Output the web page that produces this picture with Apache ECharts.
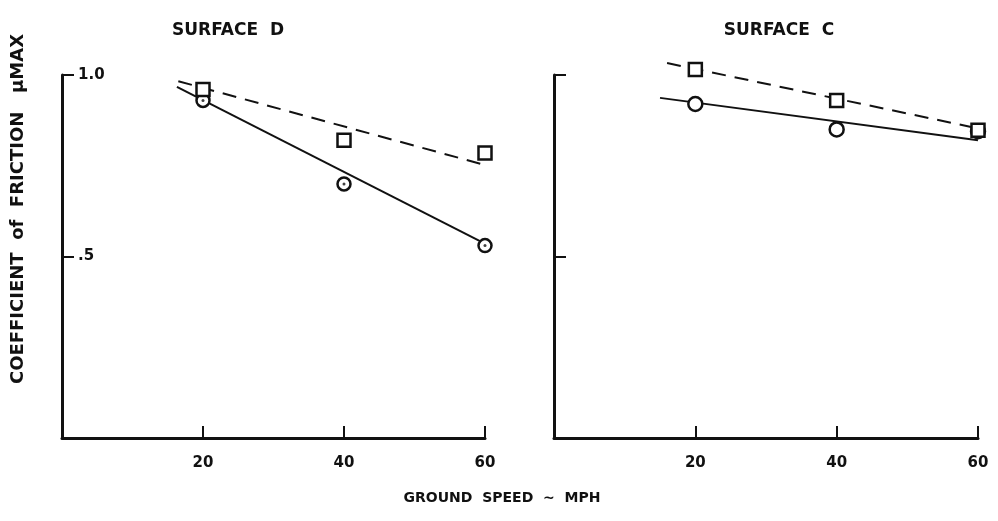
<!DOCTYPE html>
<html>
<head>
<meta charset="utf-8">
<script src="https://cdn.jsdelivr.net/npm/echarts@6/dist/echarts.min.js"></script>
<style>
  html, body { margin: 0; padding: 0; background: #fff; }
  #main { width: 998px; height: 521px; }
</style>
</head>
<body>
<div id="main"></div>
<script>
var chartDom = document.getElementById('main');
var myChart = echarts.init(chartDom);

// ground speed (mph) of the test points
var speed = [20, 40, 60];
// surface D
var dCircle = [0.93, 0.70, 0.53];
var dSquare = [0.96, 0.82, 0.785];
// surface C
var cCircle = [0.92, 0.85, 0.845];
var cSquare = [1.015, 0.93, 0.848];

// faired lines, end points [speed, mu]
var dSolid = [[16.3, 0.967], [59.5, 0.54]];
var dDash = [[16.5, 0.983], [60.4, 0.75]];
var cSolid = [[15, 0.937], [60, 0.82]];
var cDash = [[16, 1.033], [59.5, 0.855]];

var xTicks = [20, 40, 60];
var yTicks = [0.5, 1.0];
var yTickText = ['.5', '1.0'];

var ink = '#111';
var font = 'DejaVu Sans';

function pts(ys) {
  var out = [];
  for (var i = 0; i < speed.length; i++) out.push([speed[i], ys[i]]);
  return out;
}

function xAxisFor(idx) {
  return {
    type: 'value', gridIndex: idx, min: 0, max: 60, interval: 20,
    axisLine: {lineStyle: {color: ink, width: 3}},
    axisTick: {inside: true, length: 12, lineStyle: {color: ink, width: 2}},
    axisLabel: {
      margin: 18, color: ink, fontFamily: font, fontWeight: 'bold', fontSize: 15,
      formatter: function (v) { return xTicks.indexOf(v) >= 0 ? String(v) : ''; }
    },
    splitLine: {show: false}
  };
}

function yAxisFor(idx, labels) {
  return {
    type: 'value', gridIndex: idx, min: 0, max: 1, interval: 0.5,
    axisLine: {lineStyle: {color: ink, width: 3}},
    axisTick: {inside: true, length: 12, lineStyle: {color: ink, width: 2}},
    axisLabel: {
      show: labels, inside: true, margin: 16, color: ink,
      fontFamily: font, fontWeight: 'bold', fontSize: 15, verticalAlign: 'middle',
      formatter: function (v) {
        var k = yTicks.indexOf(v);
        return k >= 0 ? yTickText[k] : '';
      }
    },
    splitLine: {show: false}
  };
}

function fitLine(idx, data, dashed) {
  return {
    type: 'line', xAxisIndex: idx, yAxisIndex: idx, data: data,
    symbol: 'none', clip: false, silent: true, z: 2,
    lineStyle: {color: ink, width: 2, type: dashed ? [14, 9] : 'solid'}
  };
}

function marks(idx, data, shape, size) {
  return {
    type: 'scatter', xAxisIndex: idx, yAxisIndex: idx, data: data,
    symbol: shape, symbolSize: size, clip: false, z: 3,
    itemStyle: {color: '#fff', borderColor: ink, borderWidth: 2.5, opacity: 1}
  };
}

var option = {
  backgroundColor: '#fff',
  animation: false,
  grid: [
    {left: 62, top: 75, width: 423, height: 363},
    {left: 554, top: 75, width: 424, height: 363}
  ],
  xAxis: [xAxisFor(0), xAxisFor(1)],
  yAxis: [yAxisFor(0, true), yAxisFor(1, false)],
  graphic: [
    {type: 'text', x: 228, y: 31, style: {text: 'SURFACE  D', fill: ink, font: 'bold 17px "DejaVu Sans"', align: 'center', verticalAlign: 'middle'}},
    {type: 'text', x: 779, y: 31, style: {text: 'SURFACE  C', fill: ink, font: 'bold 17px "DejaVu Sans"', align: 'center', verticalAlign: 'middle'}},
    {type: 'text', x: 502, y: 498, style: {text: 'GROUND  SPEED  ~  MPH', fill: ink, font: 'bold 14px "DejaVu Sans"', align: 'center', verticalAlign: 'middle'}},
    {type: 'text', x: 18, y: 209, rotation: Math.PI / 2,
      style: {text: 'COEFFICIENT  of  FRICTION   \u03bcMAX', fill: ink, font: 'bold 18px "DejaVu Sans"', align: 'center', verticalAlign: 'middle'}}
  ],
  series: [
    fitLine(0, dSolid, false),
    fitLine(0, dDash, true),
    fitLine(1, cSolid, false),
    fitLine(1, cDash, true),
    marks(0, pts(dCircle), 'circle', 13),
    {
      // centre dots of the surface D circles
      type: 'scatter', xAxisIndex: 0, yAxisIndex: 0, data: pts(dCircle),
      symbol: 'circle', symbolSize: 3, z: 4, itemStyle: {color: ink}
    },
    marks(0, pts(dSquare), 'rect', 13),
    marks(1, pts(cCircle), 'circle', 14),
    marks(1, pts(cSquare), 'rect', 13)
  ]
};

myChart.setOption(option);
</script>
</body>
</html>
